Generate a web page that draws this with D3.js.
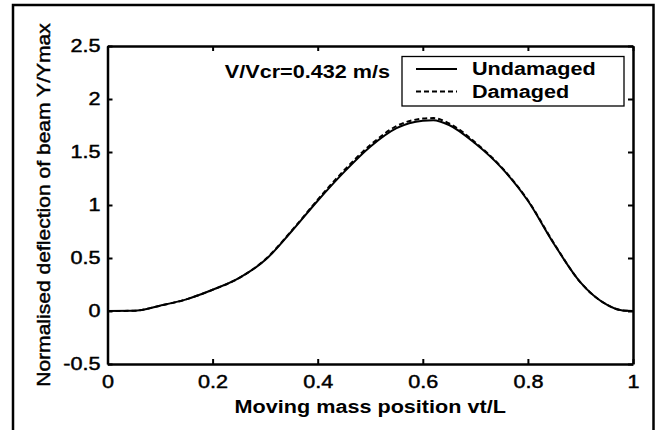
<!DOCTYPE html>
<html>
<head>
<meta charset="utf-8">
<script src="https://cdn.jsdelivr.net/npm/d3@7"></script>
<style>
  body { margin: 0; background: #fff; }
  svg text { font-family: "Liberation Sans", Arial, sans-serif; fill: #000; }
</style>
</head>
<body>
<div id="chart"></div>
<script>
// Moving mass position vt/L
const positions = [0, 0.05, 0.1, 0.15, 0.2, 0.25, 0.3, 0.35, 0.4, 0.45, 0.5, 0.55, 0.6, 0.62, 0.65, 0.7, 0.75, 0.8, 0.85, 0.9, 0.95, 0.98, 1];
// Normalised deflection Y/Ymax
const undamaged = [0, 0.002, 0.05, 0.11, 0.2, 0.31, 0.48, 0.75, 1.04, 1.31, 1.55, 1.725, 1.795, 1.8, 1.755, 1.58, 1.35, 1.04, 0.63, 0.27, 0.06, 0.005, 0];
const damaged = [0, 0.002, 0.05, 0.11, 0.2, 0.31, 0.485, 0.755, 1.05, 1.325, 1.565, 1.745, 1.815, 1.82, 1.77, 1.59, 1.355, 1.045, 0.635, 0.27, 0.06, 0.005, 0];
const xTicks = [0, 0.2, 0.4, 0.6, 0.8, 1];
const yTicks = [-0.5, 0, 0.5, 1, 1.5, 2, 2.5];

const W = 660, H = 430;
const margin = { left: 107.5, right: 27, top: 46, bottom: 66 };
const STRETCH = 1.2; // glyphs in the figure are wider than plain Arial

const svg = d3.select('#chart').append('svg')
  .attr('width', W).attr('height', H);

// outer frame (runs off the bottom edge)
svg.append('rect')
  .attr('x', 13).attr('y', 5)
  .attr('width', 640.5).attr('height', 460)
  .attr('fill', 'none').attr('stroke', '#000').attr('stroke-width', 2.5);

const x = d3.scaleLinear().domain([0, 1]).range([margin.left, W - margin.right]);
const y = d3.scaleLinear().domain([-0.5, 2.5]).range([H - margin.bottom, margin.top]);

const fmt = d => String(d); // plain hyphen for negatives, like the original

function styleAxis(g) {
  g.select('.domain').attr('stroke-width', 2.5);
  g.selectAll('.tick line').attr('stroke-width', 2);
  g.selectAll('.tick text')
    .attr('font-family', null)
    .style('font-size', '18px')
    .style('stroke', '#000').style('stroke-width', 0.45);
}

svg.append('g')
  .attr('transform', `translate(0,${y(-0.5)})`)
  .call(d3.axisBottom(x).tickValues(xTicks).tickFormat(fmt).tickSizeInner(-5).tickSizeOuter(0).tickPadding(11))
  .call(styleAxis);

svg.append('g')
  .attr('transform', `translate(0,${y(2.5)})`)
  .call(d3.axisTop(x).tickValues(xTicks).tickFormat('').tickSizeInner(-5).tickSizeOuter(0))
  .call(styleAxis);

svg.append('g')
  .attr('transform', `translate(${x(0)},0)`)
  .call(d3.axisLeft(y).tickValues(yTicks).tickFormat(fmt).tickSizeInner(-5).tickSizeOuter(0).tickPadding(7))
  .call(styleAxis);

svg.append('g')
  .attr('transform', `translate(${x(1)},0)`)
  .call(d3.axisRight(y).tickValues(yTicks).tickFormat('').tickSizeInner(-5).tickSizeOuter(0))
  .call(styleAxis);

// curves
const line = d3.line()
  .x((d, i) => x(positions[i]))
  .y(d => y(d))
  .curve(d3.curveMonotoneX);

svg.append('path').datum(damaged)
  .attr('d', line).attr('fill', 'none')
  .attr('stroke', '#000').attr('stroke-width', 2).attr('stroke-dasharray', '5,3');

svg.append('path').datum(undamaged)
  .attr('d', line).attr('fill', 'none')
  .attr('stroke', '#000').attr('stroke-width', 2);

// axis titles
svg.append('text')
  .attr('x', (x(0) + x(1)) / 2).attr('y', 413)
  .attr('text-anchor', 'middle')
  .style('font-size', '18px').style('font-weight', 'bold')
  .text('Moving mass position vt/L');

svg.append('text')
  .attr('class', 'ylabel')
  .attr('transform', `translate(50,${(y(-0.5) + y(2.5)) / 2}) rotate(-90)`)
  .attr('text-anchor', 'middle')
  .style('font-size', '18px')
  .style('stroke', '#000').style('stroke-width', 0.45)
  .text('Normalised deflection of beam Y/Ymax');

// annotation
svg.append('text')
  .attr('x', 390).attr('y', 78)
  .attr('text-anchor', 'end')
  .style('font-size', '18px').style('font-weight', 'bold')
  .text('V/Vcr=0.432 m/s');

// legend
const legend = svg.append('g');
legend.append('rect')
  .attr('x', 402).attr('y', 56.5).attr('width', 222).attr('height', 49.5)
  .attr('fill', '#fff').attr('stroke', '#000').attr('stroke-width', 1.3);

const legendItems = [
  { label: 'Undamaged', dash: null, cy: 69 },
  { label: 'Damaged', dash: '5,3', cy: 91.5 }
];
legendItems.forEach(it => {
  legend.append('line')
    .attr('x1', 416).attr('x2', 457).attr('y1', it.cy).attr('y2', it.cy)
    .attr('stroke', '#000').attr('stroke-width', 2)
    .attr('stroke-dasharray', it.dash);
  legend.append('text')
    .attr('x', 472).attr('y', it.cy + 6)
    .style('font-size', '18px').style('font-weight', 'bold')
    .text(it.label);
});

// widen glyphs to match the source figure
svg.selectAll('text').each(function () {
  const len = this.getComputedTextLength();
  const k = this.classList.contains('ylabel') ? 1.17 : STRETCH;
  if (len > 0) {
    d3.select(this).attr('textLength', len * k).attr('lengthAdjust', 'spacingAndGlyphs');
  }
});
</script>
</body>
</html>
